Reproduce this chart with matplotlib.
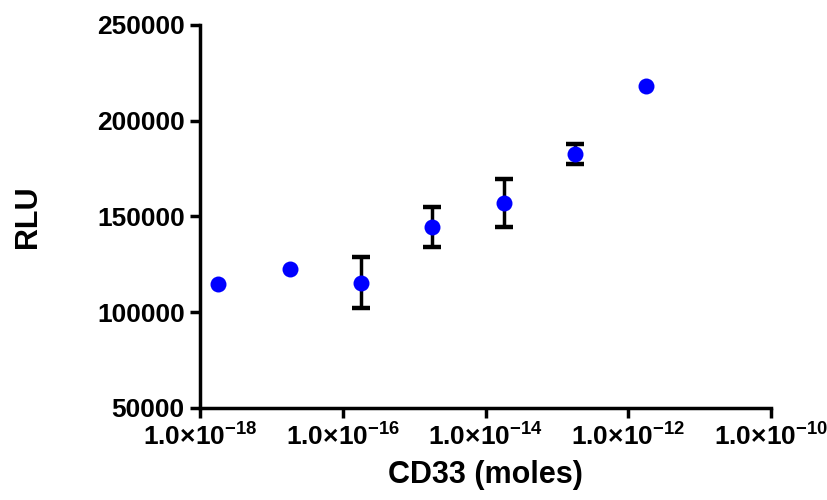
import numpy as np
import matplotlib
matplotlib.use("Agg")
import matplotlib.pyplot as plt
from matplotlib.ticker import FixedLocator, FixedFormatter

plt.rcParams["font.family"] = ["Liberation Sans", "DejaVu Sans"]
plt.rcParams["font.weight"] = "bold"
plt.rcParams["mathtext.fontset"] = "custom"
plt.rcParams["mathtext.rm"] = "Liberation Sans:bold"
plt.rcParams["mathtext.bf"] = "Liberation Sans:bold"
plt.rcParams["mathtext.default"] = "rm"

# CD33 amount (moles) vs luminescence signal
cd33_moles = [1.8e-18, 1.8e-17, 1.8e-16, 1.8e-15, 1.8e-14, 1.8e-13, 1.8e-12]
rlu_mean = [114600, 122800, 115500, 144700, 156900, 182500, 218400]
rlu_sd = [np.nan, np.nan, 13500, 10500, 12600, 5200, np.nan]

x_ticks = [1e-18, 1e-16, 1e-14, 1e-12, 1e-10]
x_tick_labels = [r"$1.0{\times}10^{-18}$", r"$1.0{\times}10^{-16}$",
                 r"$1.0{\times}10^{-14}$", r"$1.0{\times}10^{-12}$",
                 r"$1.0{\times}10^{-10}$"]
y_ticks = [50000, 100000, 150000, 200000, 250000]

x = np.array(cd33_moles)
y = np.array(rlu_mean)
sd = np.array(rlu_sd)
has_err = ~np.isnan(sd)

fig = plt.figure(figsize=(8.27, 5.0), dpi=100)
ax = fig.add_axes([200 / 827, 1 - 408 / 500, 571 / 827, 383 / 500])

ax.errorbar(x[has_err], y[has_err], yerr=sd[has_err], fmt="none",
            ecolor="black", elinewidth=2.5, capsize=6.5, capthick=3.2, zorder=2)
ax.plot(x, y, "o", color="#0000ff", markersize=11.5, markeredgewidth=0, zorder=3)

ax.set_xscale("log")
ax.set_xlim(1e-18, 1e-10)
ax.set_ylim(50000, 250000)
ax.xaxis.set_major_locator(FixedLocator(x_ticks))
ax.xaxis.set_major_formatter(FixedFormatter(x_tick_labels))
ax.xaxis.set_minor_locator(FixedLocator([]))
ax.set_yticks(y_ticks)
ax.set_yticklabels([str(v) for v in y_ticks])

for side in ("top", "right"):
    ax.spines[side].set_visible(False)
for side in ("left", "bottom"):
    ax.spines[side].set_linewidth(2.5)

ax.tick_params(axis="both", which="major", direction="out", length=7,
               width=2.5, labelsize=19, pad=4)
for lbl in ax.get_yticklabels():
    lbl.set_fontweight("bold")

ax.set_xlabel("CD33 (moles)", fontsize=22, fontweight="bold", labelpad=7)
ax.set_ylabel("RLU", fontsize=22, fontweight="bold", labelpad=39)

fig.savefig("out.png", dpi=100)
